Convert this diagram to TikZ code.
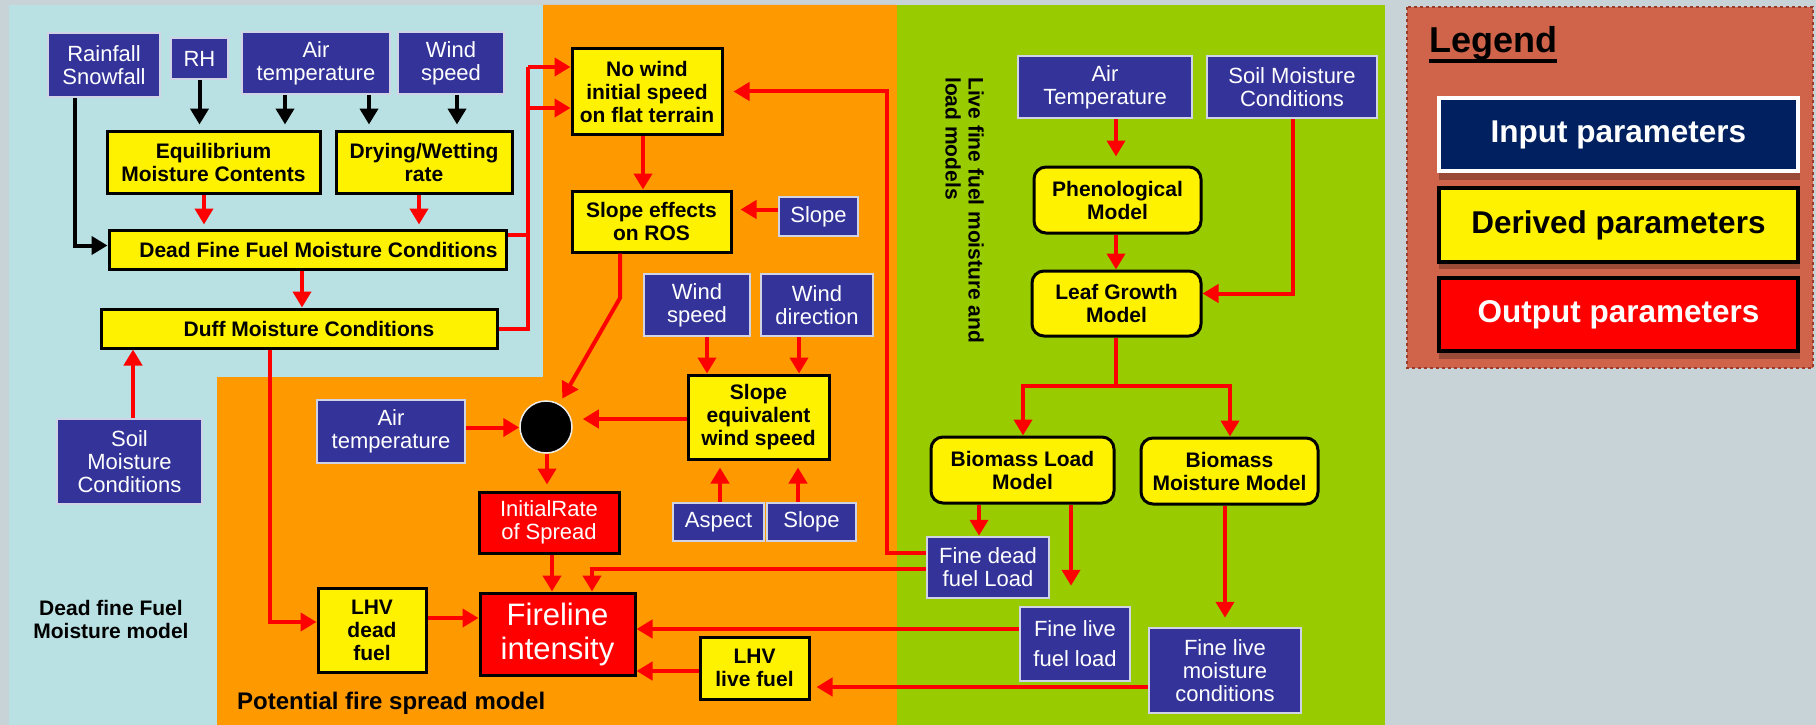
\documentclass[tikz,border=0pt]{standalone}
\usepackage{fontspec}
\setmainfont{Liberation Sans}
\usetikzlibrary{arrows.meta}
\definecolor{bgc}{HTML}{C8D3D8}
\definecolor{cyanp}{HTML}{B9E0E2}
\definecolor{orangep}{HTML}{FF9900}
\definecolor{greenp}{HTML}{99CC00}
\definecolor{legp}{HTML}{D0644A}
\definecolor{legb}{HTML}{9B3B2B}
\definecolor{inblue}{HTML}{333399}
\definecolor{inedge}{HTML}{D0D2E6}
\definecolor{navyb}{HTML}{002060}
\definecolor{shad}{HTML}{9A4B38}
\newcommand\bx[7]{\node[#2, minimum width={#5-#3}, minimum height={#6-#4}] (#1) at ({(#3+#5)/2},{(#4+#6)/2}) {#7};}
\tikzset{
 inbox/.style={draw=inedge, line width=2.5pt, fill=inblue, text=white, font=\fontsize{22}{23}\selectfont, align=center, inner sep=0pt},
 dbox/.style={draw=black, line width=3pt, fill=yellow, font=\bfseries\fontsize{21}{23}\selectfont, align=center, inner sep=0pt},
 rbox/.style={dbox, rounded corners=12pt},
 obox/.style={draw=black, line width=3pt, fill=red, text=white, align=center, inner sep=0pt},
 legbox/.style={line width=4pt, font=\bfseries\fontsize{31.5}{34}\selectfont, inner sep=0pt},
 rline/.style={draw=red, line width=4pt},
 rarr/.style={rline, -{Triangle[width=18pt,length=16pt]}},
 barr/.style={draw=black, line width=4pt, -{Triangle[width=18pt,length=16pt]}},
 lbl/.style={font=\bfseries\fontsize{21}{23}\selectfont, align=center, inner sep=0pt},
}
\begin{document}
\begin{tikzpicture}[x=1pt,y=-1pt]
\useasboundingbox (0,0) rectangle (1816,725);
% panels
\fill[bgc] (0,0) rectangle (1816,725);
\fill[cyanp] (9,5) rectangle (544,725);
\fill[orangep] (543,5) -- (897,5) -- (897,725) -- (217,725) -- (217,377) -- (543,377) -- cycle;
\fill[greenp] (897,5) rectangle (1385,725);
\draw[legb, dashed, line width=1.2pt, fill=legp] (1407,7) rectangle (1813,368);

% legend
\node[font=\bfseries\fontsize{36}{40}\selectfont, anchor=base west, inner sep=0pt] (leg) at (1429,53) {Legend};
\draw[line width=3.5pt] ([yshift=-8pt]leg.base west) -- ([yshift=-8pt]leg.base east);
\fill[shad] (1439,172) rectangle (1800,180);
\fill[shad] (1439,262) rectangle (1800,269);
\fill[shad] (1439,351) rectangle (1800,359);
\bx{legin}{legbox, draw=white, fill=navyb, text=white}{1439}{98}{1798}{171}{Input parameters}
\bx{legder}{legbox, draw=black, fill=yellow}{1439}{188}{1798}{262}{Derived parameters}
\bx{legout}{legbox, draw=black, fill=red, text=white}{1439}{278}{1798}{351}{Output parameters}

% dead fine fuel moisture model
\bx{rain}{inbox}{48}{33}{160}{97}{Rainfall\\Snowfall}
\bx{rh}{inbox}{171}{38}{228}{79}{RH}
\bx{airt}{inbox}{242}{32}{390}{94}{Air\\temperature}
\bx{winds}{inbox}{398}{32}{504}{94}{Wind\\speed}
\bx{eq}{dbox}{107}{131}{320}{193}{Equilibrium\\Moisture Contents}
\bx{dry}{dbox}{336}{131}{512}{193}{Drying/Wetting\\rate}
\bx{dffmc}{dbox}{109}{230}{506}{269}{\hspace*{22pt}Dead Fine Fuel Moisture Conditions}
\bx{duff}{dbox}{101}{309}{497}{348}{\hspace*{20pt}Duff Moisture Conditions}
\bx{soilL}{inbox}{57}{419}{202}{504}{Soil\\Moisture\\Conditions}
\node[lbl] (deadlbl) at (111,619) {Dead fine Fuel\\Moisture model};
\node[lbl, font=\bfseries\fontsize{24}{26}\selectfont, anchor=west] (potlbl) at (237,703) {Potential fire spread model};

% potential fire spread model
\bx{nowind}{dbox}{572}{49}{722}{134}{No wind\\initial speed\\on flat terrain}
\bx{slopeef}{dbox}{572}{191}{731}{252}{Slope effects\\on ROS}
\bx{slopein}{inbox}{779}{197}{858}{236}{Slope}
\bx{windsp}{inbox}{644}{274}{750}{336}{Wind\\speed}
\bx{winddir}{inbox}{761}{274}{873}{336}{Wind\\direction}
\bx{seq}{dbox}{688}{375}{829}{459}{Slope\\equivalent\\wind speed}
\bx{aspect}{inbox}{673}{503}{764}{541}{Aspect}
\bx{slope}{inbox}{767}{503}{856}{541}{Slope}
\bx{airt2}{inbox}{317}{400}{465}{463}{Air\\temperature}
\node[circle, fill=black, draw=white!85!gray, line width=1.5pt, minimum size=52pt, inner sep=0pt] (circ) at (546,427) {};
\bx{irs}{obox, font=\fontsize{22}{23}\selectfont}{479}{492}{619}{553}{InitialRate\\of Spread}
\bx{fire}{obox, font=\fontsize{31}{34}\selectfont}{480}{593}{635}{675}{Fireline\\intensity}
\bx{lhvd}{dbox}{318}{588}{426}{672}{LHV\\dead\\fuel}
\bx{lhvl}{dbox}{700}{637}{809}{699}{LHV\\live fuel}

% live fuel models
\bx{fdead}{inbox}{927}{537}{1049}{598}{Fine dead\\fuel Load}
\bx{flive}{inbox}{1020}{607}{1130}{681}{Fine live\\[7pt]fuel load}
\bx{flm}{inbox}{1149}{628}{1301}{713}{Fine live\\moisture\\conditions}
\bx{airG}{inbox}{1018}{56}{1192}{118}{Air\\Temperature}
\bx{soilG}{inbox}{1207}{56}{1377}{118}{Soil Moisture\\Conditions}
\bx{phen}{rbox}{1034}{167}{1201}{233}{Phenological\\Model}
\bx{leaf}{rbox}{1032}{271}{1201}{336}{Leaf Growth\\Model}
\bx{bload}{rbox}{931}{437}{1114}{503}{Biomass Load\\Model}
\bx{bmoist}{rbox}{1141}{438}{1318}{504}{Biomass\\Moisture Model}
\node[lbl, rotate=-90, anchor=north west, align=left] (livelbl) at (984,77) {Live fine fuel moisture and\\load models};

% black connectors
\draw[barr] (rain.south -| 75,0) |- ([yshift=4pt]dffmc.west);
\draw[barr, shorten >=5pt] (rh.south) -- (rh.south |- eq.north);
\draw[barr, shorten >=5pt] (airt.south -| 285,0) -- (eq.north -| 285,0);
\draw[barr, shorten >=5pt] (airt.south -| 369,0) -- (dry.north -| 369,0);
\draw[barr, shorten >=5pt] (winds.south -| 457,0) -- (dry.north -| 457,0);

% red connectors, left
\draw[rarr, shorten >=4pt] (eq.south -| 204,0) -- (dffmc.north -| 204,0);
\draw[rarr, shorten >=4pt] (dry.south -| 419,0) -- (dffmc.north -| 419,0);
\draw[rarr] (dffmc.south -| 302,0) -- (duff.north -| 302,0);
\coordinate (b1) at (528,67);
\coordinate (b2) at (528,108);
\coordinate (b3) at (528,235);
\draw[rline] ([yshift=14.5pt]dffmc.east) -- (b3);
\draw[rline] (duff.east) -| (b1);
\draw[rarr] (b1) -- (b1 -| nowind.west);
\draw[rarr] (b2) -- (b2 -| nowind.west);
\draw[rarr] (soilL.north -| 133,0) -- (duff.south -| 133,0);
\coordinate (c0) at ([yshift=8pt]lhvd.west);
\draw[rarr] (duff.south -| 270,0) |- (c0);

% orange panel
\draw[rarr] (nowind.south -| 643,0) -- (slopeef.north -| 643,0);
\coordinate (s0) at ([yshift=7pt]slopein.west);
\draw[rarr, shorten >=8pt] (s0) -- (s0 -| slopeef.east);
\draw[rarr, shorten >=6pt] (slopeef.south -| 620,0) -- (620,298) -- (circ);
\draw[rarr] (windsp.south -| 707,0) -- (seq.north -| 707,0);
\draw[rarr] (winddir.south -| 799,0) -- (seq.north -| 799,0);
\draw[rarr, shorten >=7pt] (aspect.north -| 720,0) -- (seq.south -| 720,0);
\draw[rarr, shorten >=7pt] (slope.north -| 798,0) -- (seq.south -| 798,0);
\coordinate (s1) at ([yshift=-2pt]seq.west);
\draw[rarr, shorten >=10pt] (s1) -- (s1 -| circ.east);
\coordinate (a2) at ([yshift=4pt]airt2.east);
\draw[rarr] (a2) -- (a2 -| circ.west);
\draw[rarr, shorten >=6pt] (circ.south -| 547,0) -- (irs.north -| 547,0);
\draw[rarr] (irs.south -| 552,0) -- (fire.north -| 552,0);
\coordinate (c1) at ([yshift=12pt]lhvd.east);
\draw[rarr] (c1) -- (c1 -| fire.west);
\coordinate (c2) at ([yshift=-1.5pt]fdead.west);
\draw[rarr] (c2) -| (fire.north -| 592,0);
\coordinate (c3) at ([yshift=14.5pt]fdead.west);
\draw[rarr, shorten >=10pt] (c3) -- (c3 -| 887,0) |- (nowind.east);
\coordinate (c4) at ([yshift=15pt]flive.west);
\draw[rarr] (c4) -- (c4 -| fire.east);
\coordinate (c5) at ([yshift=-16.5pt]flm.west);
\draw[rarr, shorten >=6pt] (c5) -- (c5 -| lhvl.east);
\coordinate (c6) at ([yshift=-3pt]lhvl.west);
\draw[rarr] (c6) -- (c6 -| fire.east);

% green panel
\draw[rarr, shorten >=9pt] (airG.south -| 1116,0) -- (phen.north -| 1116,0);
\draw[rarr] (phen.south -| 1116,0) -- (leaf.north -| 1116,0);
\coordinate (c7) at ([yshift=10pt]leaf.east);
\draw[rarr] (soilG.south -| 1293,0) |- (c7);
\coordinate (sp) at (1116,386);
\draw[rarr] (leaf.south -| sp) -- (sp) -| (bload.north -| 1023,0);
\draw[rarr] (sp) -| (bmoist.north -| 1230,0);
\draw[rarr] (bload.south -| 979,0) -- (fdead.north -| 979,0);
\draw[rarr, shorten >=20pt] (bload.south -| 1071,0) -- (flive.north -| 1071,0);
\draw[rarr, shorten >=9pt] (bmoist.south -| 1225,0) -- (flm.north -| 1225,0);
\end{tikzpicture}
\end{document}
